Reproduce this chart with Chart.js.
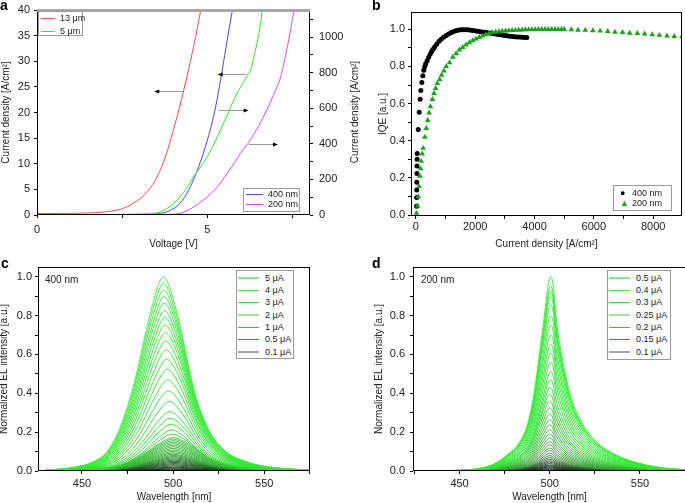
<!DOCTYPE html>
<html>
<head>
<meta charset="utf-8">
<script src="https://cdn.jsdelivr.net/npm/chart.js@4.4.1/dist/chart.umd.min.js"></script>
<style>
  body { margin: 0; background: #fff; width: 685px; height: 503px; overflow: hidden; position: relative;
         font-family: 'Liberation Sans', Arial, sans-serif; color: #222; }
  canvas { position: absolute; }
  .tag { position: absolute; font-weight: bold; font-size: 14px; color: #000; }
  .note { position: absolute; font-size: 10px; color: #222; }
  .box { position: absolute; border: 1px solid #9a9a9a; background: #fff; box-sizing: border-box; }
  .txt { position: absolute; font-size: 9px; line-height: 12px; white-space: nowrap; color: #222; }
  .ln { position: absolute; height: 0; }
</style>
</head>
<body>
<canvas id="chartA" width="365" height="255" style="left:0;top:0"></canvas>
<canvas id="chartB" width="346" height="255" style="left:340px;top:0"></canvas>
<canvas id="chartC" width="345" height="248" style="left:0;top:255px"></canvas>
<canvas id="chartD" width="346" height="248" style="left:340px;top:255px"></canvas>

<div class="tag" style="left:0;top:-3px">a</div>
<div class="tag" style="left:372px;top:-3px">b</div>
<div class="tag" style="left:1px;top:255px">c</div>
<div class="tag" style="left:372px;top:255px">d</div>
<div class="note" style="left:45px;top:274px">400 nm</div>
<div class="note" style="left:421px;top:274px">200 nm</div>

<script>
// ---- panel a: J-V curves ----
const voltRed = [0, 1, 1.5, 2, 2.3, 2.5, 2.8, 3.1, 3.4, 3.6, 3.8, 4.0, 4.2, 4.4, 4.6, 4.82];
const jRed13um = [0.3, 0.32, 0.4, 0.6, 0.9, 1.2, 2.2, 3.6, 6.0, 8.5, 12.0, 16.5, 21.5, 27.0, 33.0, 40.5];
const voltGreen = [0, 2, 3, 3.5, 3.8, 4.0, 4.2, 4.4, 4.6, 4.8, 5.0, 5.2, 5.4, 5.6, 5.8, 6.0, 6.17, 6.27, 6.35, 6.46, 6.55, 6.62];
const jGreen5um = [0.05, 0.08, 0.2, 0.4, 1.2, 2.2, 3.6, 5.3, 7.5, 9.4, 11.4, 14.0, 16.8, 19.8, 22.8, 25.3, 27.2, 28.3, 30.5, 33.7, 37.0, 40.5];
const voltBlue = [0, 3, 3.4, 3.62, 3.9, 4.2, 4.45, 4.65, 4.85, 5.0, 5.15, 5.28, 5.43, 5.58, 5.74];
const jBlue400 = [0, 2, 5, 9, 25, 66, 140, 225, 330, 422, 530, 647, 810, 984, 1160];
const voltViolet = [0, 3.5, 4.0, 4.2, 4.6, 5.0, 5.3, 5.58, 5.8, 5.97, 6.26, 6.5, 6.74, 6.95, 7.15, 7.35, 7.55];
const jViolet200 = [0, 2, 5, 9, 45, 103, 160, 234, 295, 347, 422, 500, 590, 680, 778, 950, 1160];
// arrows pointing to the axis each curve belongs to (V, left-axis value)
const arrowsA = [
  { from: 4.28, to: 3.44, y: 24.1 },
  { from: 6.15, to: 5.30, y: 27.6 },
  { from: 5.33, to: 6.21, y: 20.5 },
  { from: 6.21, to: 7.07, y: 13.8 }
];

// ---- panel b: IQE vs current density ----
const jBlack400 = [22, 25, 28, 30, 33, 36, 40, 44, 78, 111, 144, 167, 200, 233, 267, 300,
  330, 380, 430, 480, 530, 580, 630, 700, 780, 860, 940, 1020, 1100, 1180, 1260, 1340, 1420, 1500,
  1580, 1660, 1740, 1820, 1900, 1980, 2060, 2140, 2220, 2300, 2380, 2460, 2540, 2620, 2700, 2780,
  2860, 2940, 3020, 3100, 3180, 3260, 3340, 3420, 3500, 3580, 3660, 3740];
const iqeBlack400 = [0.047, 0.095, 0.135, 0.176, 0.224, 0.264, 0.30, 0.332, 0.461, 0.553, 0.623, 0.67, 0.714, 0.75, 0.78, 0.80,
  0.815, 0.83, 0.85, 0.865, 0.88, 0.893, 0.905, 0.92, 0.935, 0.948, 0.958, 0.967, 0.975, 0.981, 0.987, 0.992, 0.995, 0.997,
  0.998, 0.998, 0.997, 0.996, 0.994, 0.992, 0.99, 0.988, 0.986, 0.984, 0.982, 0.98, 0.978, 0.976, 0.974, 0.972,
  0.97, 0.968, 0.966, 0.964, 0.962, 0.961, 0.96, 0.959, 0.958, 0.957, 0.956, 0.956];
const jGreen200 = [22, 56, 78, 100, 133, 156, 178, 211, 244, 300, 350, 400, 444, 489, 555, 611, 667, 722, 800, 867, 944,
  1022, 1133, 1244, 1356, 1467, 1578, 1689, 1800, 1911, 2022, 2133, 2244, 2356, 2467, 2578, 2689, 2800, 2911,
  3022, 3133, 3244, 3356, 3467, 3578, 3689, 3800, 3911, 4022, 4133, 4244, 4356, 4467, 4578, 4689, 4800, 4911,
  5000, 5244, 5467, 5711, 5967, 6211, 6467, 6711, 6967, 7211, 7467, 7711, 7967, 8211, 8467, 8711, 8967];
const iqeGreen200 = [0.01, 0.05, 0.1, 0.155, 0.21, 0.25, 0.29, 0.33, 0.36, 0.42, 0.467, 0.51, 0.55, 0.584, 0.623, 0.655, 0.682, 0.709, 0.73, 0.754, 0.776,
  0.8, 0.82, 0.85, 0.87, 0.889, 0.903, 0.916, 0.928, 0.939, 0.948, 0.957, 0.964, 0.971, 0.978, 0.982, 0.986, 0.988, 0.99,
  0.992, 0.993, 0.994, 0.995, 0.996, 0.997, 0.998, 0.998, 0.999, 0.999, 1.0, 1.0, 1.0, 1.0, 1.0, 1.0, 1.0, 1.0,
  1.0, 0.998, 0.996, 0.995, 0.993, 0.991, 0.989, 0.985, 0.984, 0.98, 0.978, 0.975, 0.971, 0.968, 0.964, 0.962, 0.96];

// ---- panel c: 400 nm EL spectra ----
// shape of the strongest spectrum: offset from its peak [nm] and normalized intensity
const shapeCOffset = [-65, -56.6, -47.3, -38.3, -30.9, -24.6, -18.2, -13.5, -9.5, -4.9, -2, 0, 2, 5.4, 10, 13.7, 18.2, 25.5, 34.6, 45.5, 57.4, 70, 85];
const shapeCValue = [0.004, 0.01, 0.022, 0.048, 0.099, 0.202, 0.374, 0.546, 0.717, 0.889, 0.975, 1, 0.98, 0.889, 0.717, 0.546, 0.374, 0.202, 0.099, 0.048, 0.022, 0.01, 0.004];
const peaksC = [1.0, 0.966, 0.931, 0.897, 0.863, 0.825, 0.789, 0.751, 0.712, 0.669, 0.623, 0.575, 0.523, 0.469, 0.412, 0.358,
  0.306, 0.272, 0.241, 0.212, 0.19, 0.172, 0.164, 0.156, 0.148, 0.14, 0.132, 0.124, 0.116, 0.108, 0.1, 0.093, 0.086,
  0.08, 0.074, 0.068, 0.062, 0.056, 0.05, 0.044, 0.038, 0.032, 0.026, 0.02, 0.015, 0.01, 0.006];
const centersC = [494.6, 494.7, 494.8, 495, 495.1, 495.3, 495.4, 495.6, 495.8, 496, 496.2, 496.5, 496.8, 497.1, 497.4, 497.8,
  498.2, 498.5, 498.8, 499.2, 499.5, 500, 500, 500, 500, 500, 500, 500, 500, 500, 500, 500, 500,
  500.3, 500.3, 500.3, 500.3, 500.5, 500.5, 500.5, 500.5, 500.5, 500.5, 500.5, 500.5, 500.5, 500.5];
const widthsC = [1, 1, 1, 1, 1, 1, 1, 1, 1, 1, 1, 1, 1, 1, 1, 1,
  1, 1, 1, 1, 1.05, 1.1, 1.1, 1.1, 1.1, 1.1, 1.1, 1.1, 1.1, 1.1, 1.1, 1.1, 1.1,
  1.1, 1.1, 1.1, 1.1, 1.1, 1.1, 1.1, 1.1, 1.1, 1.1, 1.1, 1.1, 1.1, 1.1];
const currentsC = ['5 μA', '4 μA', '3 μA', '2 μA', '1 μA', '0.5 μA', '0.1 μA'];

// ---- panel d: 200 nm EL spectra ----
const shapeDOffset = [-60, -50, -39.1, -30.8, -24.3, -17, -12.4, -9.2, -6.3, -3.5, -1.5, 0, 1.5, 2.9, 6.1, 10.7, 17.1, 25.4, 36.5, 49.3, 64.1, 80];
const shapeDValue = [0.002, 0.004, 0.014, 0.039, 0.082, 0.151, 0.254, 0.4, 0.597, 0.8, 0.95, 1, 0.95, 0.8, 0.597, 0.4, 0.254, 0.151, 0.082, 0.039, 0.014, 0.005];
const peaksD = [1.0, 0.953, 0.926, 0.897, 0.854, 0.799, 0.751, 0.70, 0.652, 0.606, 0.559, 0.511, 0.47, 0.43, 0.395, 0.36,
  0.325, 0.293, 0.264, 0.238, 0.212, 0.19, 0.17, 0.151, 0.134, 0.118, 0.105, 0.091, 0.079, 0.069, 0.06, 0.052,
  0.045, 0.038, 0.031, 0.026, 0.021, 0.016, 0.011, 0.006];
const centersD = [500.5, 500.5, 500.5, 500.5, 500.5, 500.5, 500.5, 500.5, 500.5, 500.5, 500.5, 500.5, 500.3, 500.2, 500, 500,
  500, 500, 500, 500, 500, 500, 500, 500, 500, 500, 500, 500, 500, 500, 500, 500,
  500, 500, 500, 500, 500, 500, 500, 500];
const widthsD = [1, 1, 1, 1, 1, 1, 1, 1, 1, 1, 1, 1, 1, 1, 1, 1,
  1, 1, 1, 1, 1, 1, 1, 1, 1, 1, 1, 1, 1, 1, 1, 1,
  1, 1, 1, 1, 1, 1, 1, 1];
const currentsD = ['0.5 μA', '0.4 μA', '0.3 μA', '0.25 μA', '0.2 μA', '0.15 μA', '0.1 μA'];

Chart.defaults.font.family = "'Liberation Sans', Arial, sans-serif";
Chart.defaults.font.size = 11;
Chart.defaults.color = '#222';
Chart.defaults.animation = false;
Chart.defaults.responsive = false;
Chart.defaults.plugins.legend.display = false;
Chart.defaults.plugins.tooltip.enabled = false;

const pts = (xs, ys) => xs.map((x, i) => ({ x, y: ys[i] }));

function isMajor(v, major) {
  const r = v / major;
  return Math.abs(r - Math.round(r)) < 1e-6;
}

// linear axis with fixed size so the plot areas land where the figure has them
function axis(o) {
  const horizontal = o.pos === 'bottom';
  return {
    type: 'linear', position: o.pos, min: o.min, max: o.max,
    border: { display: false },
    grid: { drawOnChartArea: false, tickLength: 3, color: '#000', lineWidth: 1 },
    ticks: {
      autoSkip: false, maxRotation: 0, padding: o.pad,
      callback: v => isMajor(v, o.major) ? o.fmt(v) : ''
    },
    // ticks on every multiple of the step (chart.js would re-space them when min and max are both fixed)
    afterBuildTicks: s => {
      const ticks = [];
      for (let v = Math.ceil(o.min / o.step - 1e-9) * o.step; v <= o.max + 1e-9; v += o.step) {
        ticks.push({ value: +v.toFixed(6) });
      }
      s.ticks = ticks;
    },
    title: o.title ? { display: true, text: o.title, font: { size: 10 }, padding: { top: o.tpad, bottom: o.tpad } } : { display: false },
    afterFit: s => {
      if (horizontal) { s.height = o.size; s.paddingLeft = 0; s.paddingRight = 0; }
      else { s.width = o.size; s.paddingTop = 0; s.paddingBottom = 0; }
    }
  };
}

const frame = {
  id: 'frame',
  afterDraw(chart, args, opts) {
    const { ctx, chartArea: a } = chart;
    ctx.save();
    ctx.strokeStyle = '#000';
    ctx.lineWidth = 1;
    ctx.strokeRect(Math.round(a.left) + 0.5, Math.round(a.top) + 0.5, Math.round(a.width) - 1, Math.round(a.height) - 1);
    if (opts.topColor) {
      ctx.strokeStyle = opts.topColor;
      ctx.lineWidth = 3;
      ctx.beginPath();
      ctx.moveTo(a.left, a.top + 0.5);
      ctx.lineTo(a.right, a.top + 0.5);
      ctx.stroke();
    }
    ctx.restore();
  }
};

const arrowsAndTitle = {
  id: 'arrowsAndTitle',
  afterDraw(chart) {
    const { ctx, scales: { x, y } } = chart;
    ctx.save();
    arrowsA.forEach(a => {
      const x1 = x.getPixelForValue(a.from), x2 = x.getPixelForValue(a.to), py = Math.round(y.getPixelForValue(a.y)) + 0.5;
      const dir = Math.sign(x2 - x1);
      ctx.strokeStyle = '#9a9a9a';
      ctx.lineWidth = 1;
      ctx.beginPath();
      ctx.moveTo(x1, py);
      ctx.lineTo(x2 - dir * 4, py);
      ctx.stroke();
      ctx.fillStyle = '#000';
      ctx.beginPath();
      ctx.moveTo(x2, py);
      ctx.lineTo(x2 - dir * 5, py - 2);
      ctx.lineTo(x2 - dir * 5, py + 2);
      ctx.closePath();
      ctx.fill();
    });
    // title of the right axis, read bottom to top like the left one
    ctx.translate(355, 112);
    ctx.rotate(-Math.PI / 2);
    ctx.font = "10px 'Liberation Sans', Arial, sans-serif";
    ctx.fillStyle = '#222';
    ctx.textAlign = 'center';
    ctx.textBaseline = 'middle';
    ctx.fillText('Current density [A/cm²]', 0, 0);
    ctx.restore();
  }
};

const fmt0 = v => String(v);
const fmt1 = v => v.toFixed(1);

new Chart(document.getElementById('chartA'), {
  type: 'line',
  data: {
    datasets: [
      { data: pts(voltRed, jRed13um), borderColor: '#ff4a4a', yAxisID: 'y' },
      { data: pts(voltGreen, jGreen5um), borderColor: '#2ee62e', yAxisID: 'y' },
      { data: pts(voltBlue, jBlue400), borderColor: '#4848ff', yAxisID: 'y2' },
      { data: pts(voltViolet, jViolet200), borderColor: '#d84cff', yAxisID: 'y2' }
    ].map(d => Object.assign(d, { borderWidth: 1, pointRadius: 0, cubicInterpolationMode: 'monotone' }))
  },
  options: {
    layout: { padding: { top: 10, right: 0, left: 0, bottom: 0 } },
    scales: {
      x: axis({ pos: 'bottom', min: 0, max: 8.01, step: 2.5, major: 5, fmt: fmt0, pad: 5, size: 40, title: 'Voltage [V]', tpad: 5 }),
      y: axis({ pos: 'left', min: 0, max: 40, step: 5, major: 5, fmt: fmt0, pad: 4, size: 37, title: 'Current density [A/cm²]', tpad: 0 }),
      y2: axis({ pos: 'right', min: 0, max: 1153, step: 100, major: 200, fmt: fmt0, pad: 6, size: 55 })
    },
    plugins: { frame: { topColor: '#a8a8a8' } }
  },
  plugins: [frame, arrowsAndTitle]
});

new Chart(document.getElementById('chartB'), {
  type: 'scatter',
  data: {
    datasets: [
      { data: pts(jGreen200, iqeGreen200), pointStyle: 'triangle', pointRadius: 3.3, backgroundColor: '#17a417', borderColor: '#17a417', borderWidth: 0, order: 0 },
      { data: pts(jBlack400, iqeBlack400), pointStyle: 'circle', pointRadius: 2.5, backgroundColor: '#000', borderColor: '#000', borderWidth: 0, order: 1 }
    ]
  },
  options: {
    layout: { padding: { top: 12, right: 0, left: 0, bottom: 0 } },
    scales: {
      x: axis({ pos: 'bottom', min: -166, max: 8973, step: 1000, major: 2000, fmt: fmt0, pad: 1, size: 39, title: 'Current density [A/cm²]', tpad: 5 }),
      y: axis({ pos: 'left', min: -0.005, max: 1.093, step: 0.1, major: 0.2, fmt: fmt1, pad: 3, size: 71, title: 'IQE [a.u.]', tpad: 37 })
    },
    plugins: { frame: {} }
  },
  plugins: [frame]
});

function spectra(offsets, values, peaks, centers, widths, colorOf) {
  return peaks.map((p, i) => ({
    data: offsets.map((o, k) => ({ x: centers[i] + o * widths[i], y: values[k] * p })),
    borderColor: colorOf(p), borderWidth: 0.9, pointRadius: 0, cubicInterpolationMode: 'monotone'
  }));
}

const rgb = (r, g, b) => `rgb(${Math.round(r)},${Math.round(g)},${Math.round(b)})`;

function colorC(p) {
  if (p >= 0.19) return rgb(40 + 10 * p, 210 + 30 * p, 40 + 10 * p);
  if (p >= 0.08) { const t = (p - 0.08) / 0.11; return rgb(45 + 10 * t, 165 + 40 * t, 45 + 10 * t); }
  const t = p / 0.08;
  return rgb(5 + 40 * t, 20 + 130 * t, 5 + 40 * t);
}

function colorD(p) {
  if (p >= 0.45) return rgb(45, 215 + 25 * p, 45);
  if (p >= 0.1) { const t = (p - 0.1) / 0.35; return rgb(55 - 10 * t, 150 + 70 * t, 55 - 10 * t); }
  const t = p / 0.1;
  return rgb(15 + 45 * t, 20 + 115 * t, 15 + 45 * t);
}

function spectrumChart(id, datasets, leftSize, xMin, xMax, yPad, titlePad, rightPad) {
  return new Chart(document.getElementById(id), {
    type: 'line',
    data: { datasets },
    options: {
      layout: { padding: { top: 12, right: rightPad, left: 0, bottom: 0 } },
      scales: {
        x: axis({ pos: 'bottom', min: xMin, max: xMax, step: 25, major: 50, fmt: fmt0, pad: 3, size: 32, title: 'Wavelength [nm]', tpad: 0 }),
        y: axis({ pos: 'left', min: 0, max: 1.05, step: 0.1, major: 0.2, fmt: fmt1, pad: yPad, size: leftSize, title: 'Normalized EL intensity [a.u.]', tpad: titlePad })
      },
      plugins: { frame: {} }
    },
    plugins: [frame]
  });
}

spectrumChart('chartC', spectra(shapeCOffset, shapeCValue, peaksC, centersC, widthsC, colorC), 38, 425.9, 575.1, 3, -2, 35);
spectrumChart('chartD', spectra(shapeDOffset, shapeDValue, peaksD, centersD, widthsD, colorD), 73, 424.2, 575.5, 5, 33, 0);

// ---- legends ----
function legend(box, rows) {
  const b = document.createElement('div');
  b.className = 'box';
  Object.assign(b.style, { left: box[0] + 'px', top: box[1] + 'px', width: box[2] + 'px', height: box[3] + 'px' });
  document.body.appendChild(b);
  rows.forEach(r => {
    if (r.marker) {
      const m = document.createElement('div');
      m.className = 'txt';
      m.textContent = r.marker;
      Object.assign(m.style, { left: (r.x1 - 4) + 'px', top: (r.y - 6) + 'px', color: r.color, fontSize: r.size + 'px' });
      document.body.appendChild(m);
    } else {
      const l = document.createElement('div');
      l.className = 'ln';
      Object.assign(l.style, { left: r.x1 + 'px', top: (r.y - r.w / 2) + 'px', width: (r.x2 - r.x1) + 'px', borderTop: r.w + 'px solid ' + r.color });
      document.body.appendChild(l);
    }
    const t = document.createElement('div');
    t.className = 'txt';
    t.textContent = r.label;
    Object.assign(t.style, { left: r.tx + 'px', top: (r.y - 6) + 'px' });
    document.body.appendChild(t);
  });
}

legend([38, 11, 45, 25], [
  { label: '13 μm', color: '#ff4a4a', w: 1, x1: 41, x2: 55, tx: 60, y: 18 },
  { label: '5 μm', color: '#2ee62e', w: 1, x1: 41, x2: 55, tx: 60, y: 31 }
]);
legend([243, 188, 57, 24], [
  { label: '400 nm', color: '#4848ff', w: 1, x1: 246, x2: 263, tx: 268, y: 194 },
  { label: '200 nm', color: '#d84cff', w: 1, x1: 246, x2: 263, tx: 268, y: 204 }
]);
legend([613, 185, 59, 26], [
  { label: '400 nm', color: '#000', marker: '●', size: 9, x1: 624, tx: 632, y: 193 },
  { label: '200 nm', color: '#17a417', marker: '▲', size: 9, x1: 624, tx: 632, y: 203 }
]);

const legendColorsC = ['#86e886', '#52e052', '#4cd24c', '#a6dea6', '#47b847', '#3c913c', '#9eaa9e'];
const legendWidths = [2, 1, 1, 2, 1, 1, 2];
const legendRowsY = [278, 290, 302, 315, 327, 339, 352];
legend([236, 270, 58, 89], currentsC.map((label, i) => (
  { label, color: legendColorsC[i], w: legendWidths[i], x1: 238, x2: 259, tx: 265, y: legendRowsY[i] })));
legend([607, 270, 64, 90], currentsD.map((label, i) => (
  { label, color: legendColorsC[i], w: legendWidths[i], x1: 609, x2: 630, tx: 636, y: legendRowsY[i] })));
</script>
</body>
</html>
